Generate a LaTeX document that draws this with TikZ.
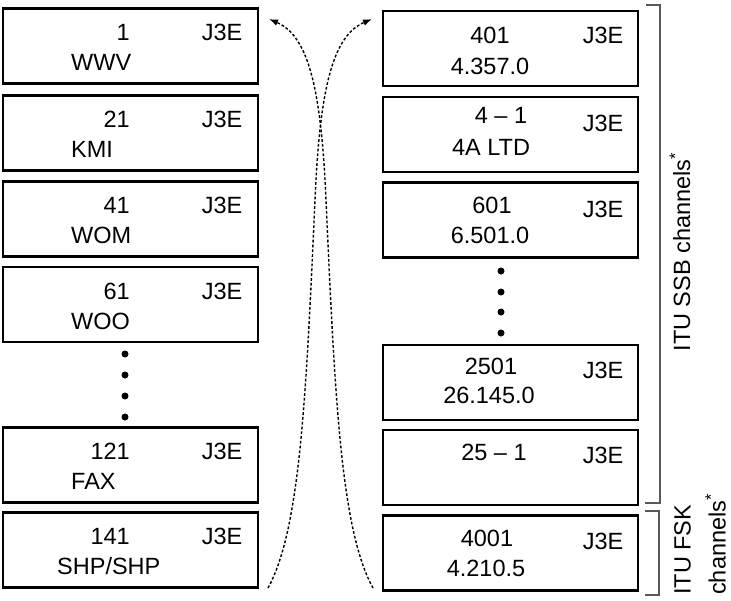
\documentclass[tikz,border=0pt]{standalone}
\usepackage{fontspec}
\setmainfont{Liberation Sans}
\usetikzlibrary{arrows.meta, positioning, calc}
\newcommand{\chanfont}{\fontsize{23.5}{28}\selectfont}
\tikzstyle{chan}  = [rectangle, draw=black, line width=2.4pt, minimum width=255pt,
                     minimum height=75pt, inner sep=0pt, outer sep=0pt]
\tikzstyle{num}   = [inner sep=0pt, font=\chanfont]
\tikzstyle{more}  = [circle, fill=black, minimum size=7pt, inner sep=0pt]
\tikzstyle{brace} = [draw=black!65, line width=1.1pt]
\tikzstyle{swap}  = [dash pattern=on 2.8pt off 2pt, line width=1.4pt,
                     -{Latex[length=9pt, width=6.5pt]}]

\begin{document}
\begin{tikzpicture}[x=1pt, y=-1pt]
  \useasboundingbox (0,0) rectangle (731,600);

  % left column
  \node (c1) [chan] at (130.5,46)  {};
  \node (c2) [chan] at (130.5,133) {};
  \node (c3) [chan] at (130.5,219) {};
  \node (c4) [chan] at (130.5,304.5) {};
  \node (c5) [chan] at (130.5,465) {};
  \node (c6) [chan] at (130.5,550) {};

  \node (c1n) [num, anchor=base east] at ($(c1.north west)+(127,32)$) {1};
  \node (c1m) [num, anchor=base]      at ($(c1.north west)+(219,32)$) {J3E};
  \node (c1s) [num, anchor=base west] at ($(c1.north west)+(68,62)$)  {WWV};
  \node (c2n) [num, anchor=base east] at ($(c2.north west)+(127,32)$) {21};
  \node (c2m) [num, anchor=base]      at ($(c2.north west)+(219,32)$) {J3E};
  \node (c2s) [num, anchor=base west] at ($(c2.north west)+(68,62)$)  {KMI};
  \node (c3n) [num, anchor=base east] at ($(c3.north west)+(127,32)$) {41};
  \node (c3m) [num, anchor=base]      at ($(c3.north west)+(219,32)$) {J3E};
  \node (c3s) [num, anchor=base west] at ($(c3.north west)+(68,62)$)  {WOM};
  \node (c4n) [num, anchor=base east] at ($(c4.north west)+(127,32)$) {61};
  \node (c4m) [num, anchor=base]      at ($(c4.north west)+(219,32)$) {J3E};
  \node (c4s) [num, anchor=base west] at ($(c4.north west)+(68,62)$)  {WOO};
  \node (c5n) [num, anchor=base east] at ($(c5.north west)+(127,32)$) {121};
  \node (c5m) [num, anchor=base]      at ($(c5.north west)+(219,32)$) {J3E};
  \node (c5s) [num, anchor=base west] at ($(c5.north west)+(68,62)$)  {FAX};
  \node (c6n) [num, anchor=base east] at ($(c6.north west)+(127,32)$) {141};
  \node (c6m) [num, anchor=base]      at ($(c6.north west)+(219,32)$) {J3E};
  \node (c6s) [num, anchor=base west] at ($(c6.north west)+(54,62)$)  {SHP/SHP};

  \node (l1) [more] at (125,354) {};
  \node (l2) [more] at (125,375) {};
  \node (l3) [more] at (125,396) {};
  \node (l4) [more] at (125,417) {};

  % right column
  \node (r1) [chan] at (510.5,48.5)  {};
  \node (r2) [chan] at (510.5,134.5) {};
  \node (r3) [chan] at (510.5,220)   {};
  \node (r4) [chan] at (510.5,382.5) {};
  \node (r5) [chan] at (510.5,467.5) {};
  \node (r6) [chan] at (510.5,553)   {};

  \node (r1n) [num, anchor=base] at ($(r1.north west)+(107,32)$) {401};
  \node (r1m) [num, anchor=base] at ($(r1.north west)+(220,32)$) {J3E};
  \node (r1s) [num, anchor=base] at ($(r1.north west)+(107,63)$) {4.357.0};
  \node (r2n) [num, anchor=base] at ($(r2.north west)+(118,26)$) {4 -- 1};
  \node (r2m) [num, anchor=base] at ($(r2.north west)+(220,34)$) {J3E};
  \node (r2s) [num, anchor=base] at ($(r2.north west)+(108,58)$) {4A LTD};
  \node (r3n) [num, anchor=base] at ($(r3.north west)+(109,31)$) {601};
  \node (r3m) [num, anchor=base] at ($(r3.north west)+(220,35)$) {J3E};
  \node (r3s) [num, anchor=base] at ($(r3.north west)+(107,61)$) {6.501.0};
  \node (r4n) [num, anchor=base] at ($(r4.north west)+(108,29)$) {2501};
  \node (r4m) [num, anchor=base] at ($(r4.north west)+(220,33)$) {J3E};
  \node (r4s) [num, anchor=base] at ($(r4.north west)+(106,58)$) {26.145.0};
  \node (r5n) [num, anchor=base] at ($(r5.north west)+(111,30)$) {25 -- 1};
  \node (r5m) [num, anchor=base] at ($(r5.north west)+(220,33)$) {J3E};
  \node (r6n) [num, anchor=base] at ($(r6.north west)+(104,31)$) {4001};
  \node (r6m) [num, anchor=base] at ($(r6.north west)+(220,34)$) {J3E};
  \node (r6s) [num, anchor=base] at ($(r6.north west)+(103,61)$) {4.210.5};

  \node (d1) [more] at (501,271) {};
  \node (d2) [more] at (501,292) {};
  \node (d3) [more] at (501,312) {};
  \node (d4) [more] at (501,333) {};

  % brackets
  \draw [brace] (646,5) -- (660,5) -- (660,503) -- (645,503);
  \draw [brace] (645,511) -- (659,511) -- (659,595) -- (645,595);
  \node (ssb) [num, rotate=90, anchor=base] at (690,252) {ITU SSB channels\textsuperscript{*}};
  \node (fsk) [inner sep=0pt, font=\fontsize{23.5}{35}\selectfont, rotate=90,
               anchor=north west, align=left] at (674,595) {ITU FSK\\channels\textsuperscript{*}};

  % crossing arrows
  \coordinate (lowL) at (268,588);
  \coordinate (lowR) at (373,588);
  \coordinate (topL) at (269,19);
  \coordinate (topR) at (372,19);
  \draw [swap] (lowL) .. controls (300,530) and (306,400) .. (315,200)
                      .. controls (320,80) and (335,35) .. (topR);
  \draw [swap] (lowR) .. controls (341,530) and (335,400) .. (326,200)
                      .. controls (321,80) and (306,35) .. (topL);
\end{tikzpicture}
\end{document}
